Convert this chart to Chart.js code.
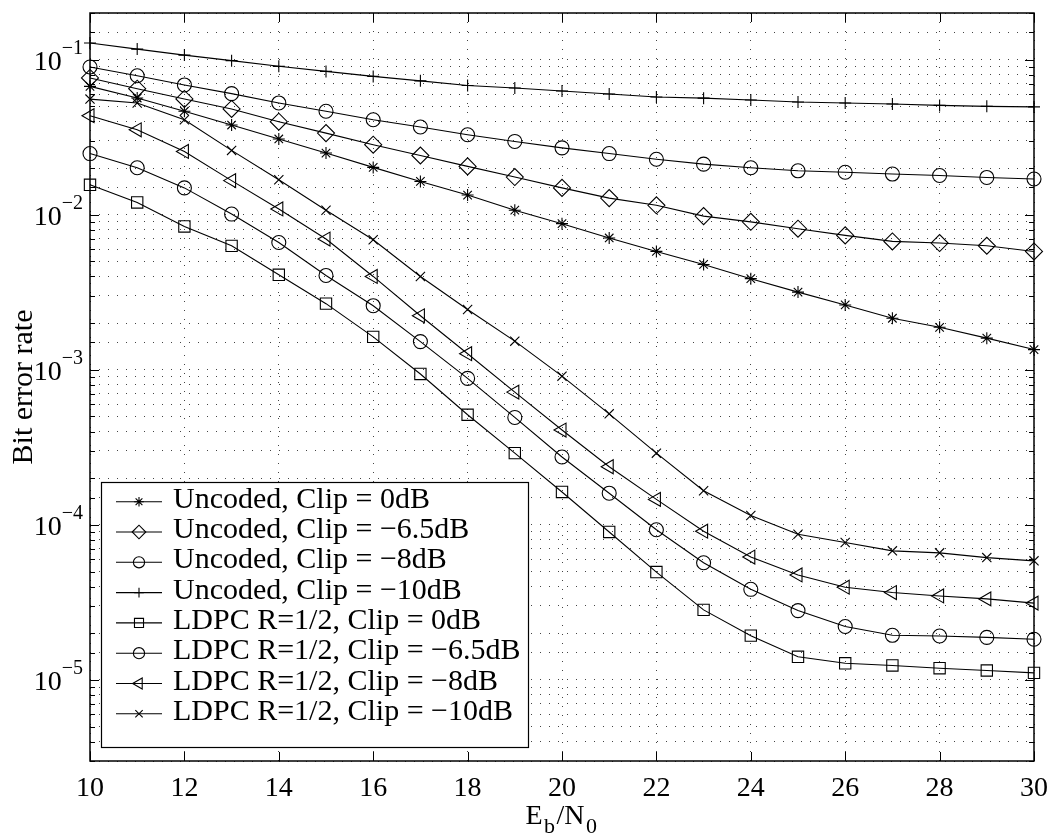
<!DOCTYPE html>
<html>
<head>
<meta charset="utf-8">
<script src="https://cdn.jsdelivr.net/npm/chart.js"></script>
<style>
  html, body { margin: 0; padding: 0; background: #fff; }
  canvas { display: block; }
</style>
</head>
<body>
<canvas id="ber" width="1059" height="839"></canvas>
<script>
// Eb/N0 (dB)
var snr = [10, 11, 12, 13, 14, 15, 16, 17, 18, 19, 20, 21, 22, 23, 24, 25, 26, 27, 28, 29, 30];

// uncoded
var unc0   = [0.0673, 0.0566, 0.0465, 0.0379, 0.0308, 0.025, 0.0202, 0.0164, 0.0134, 0.0107, 0.00876, 0.00708, 0.0058, 0.00478, 0.00387, 0.00317, 0.00262, 0.00215, 0.00188, 0.0016, 0.00135];
var unc65  = [0.0762, 0.065, 0.0558, 0.0481, 0.0398, 0.0336, 0.0283, 0.0241, 0.0205, 0.0175, 0.0149, 0.0128, 0.0115, 0.0098, 0.009, 0.00813, 0.00736, 0.00673, 0.00657, 0.00631, 0.0058];
var unc8   = [0.0897, 0.0788, 0.0687, 0.0604, 0.0526, 0.0465, 0.041, 0.0368, 0.0328, 0.0297, 0.027, 0.0248, 0.0228, 0.0212, 0.0201, 0.0192, 0.0188, 0.0183, 0.0179, 0.0174, 0.017];
var unc10  = [0.128, 0.117, 0.107, 0.0986, 0.0906, 0.084, 0.078, 0.073, 0.0682, 0.0656, 0.0628, 0.0601, 0.0575, 0.0565, 0.055, 0.0533, 0.0526, 0.0518, 0.0507, 0.05, 0.0496];

// LDPC R=1/2
var ldpc0  = [0.0156, 0.012, 0.0084, 0.0063, 0.0041, 0.00267, 0.00163, 0.00094, 0.000513, 0.00029, 0.000163, 9.0e-5, 4.96e-5, 2.83e-5, 1.93e-5, 1.41e-5, 1.28e-5, 1.24e-5, 1.19e-5, 1.15e-5, 1.11e-5];
var ldpc65 = [0.0248, 0.0201, 0.0149, 0.0101, 0.00662, 0.00406, 0.00259, 0.00152, 0.00088, 0.000493, 0.000274, 0.00016, 9.3e-5, 5.7e-5, 3.84e-5, 2.8e-5, 2.21e-5, 1.94e-5, 1.92e-5, 1.88e-5, 1.83e-5];
var ldpc8  = [0.0435, 0.0353, 0.0256, 0.0166, 0.0109, 0.00697, 0.004, 0.00223, 0.00127, 0.000718, 0.000409, 0.000237, 0.000146, 9.1e-5, 6.2e-5, 4.75e-5, 3.96e-5, 3.66e-5, 3.48e-5, 3.33e-5, 3.13e-5];
var ldpc10 = [0.0557, 0.0526, 0.041, 0.026, 0.0168, 0.0107, 0.0069, 0.004, 0.00245, 0.00153, 0.00091, 0.00052, 0.00029, 0.000166, 0.000115, 8.7e-5, 7.7e-5, 6.8e-5, 6.6e-5, 6.15e-5, 5.86e-5];

var labels = [
  'Uncoded, Clip = 0dB',
  'Uncoded, Clip = \u22126.5dB',
  'Uncoded, Clip = \u22128dB',
  'Uncoded, Clip = \u221210dB',
  'LDPC R=1/2, Clip = 0dB',
  'LDPC R=1/2, Clip = \u22126.5dB',
  'LDPC R=1/2, Clip = \u22128dB',
  'LDPC R=1/2, Clip = \u221210dB'
];
var series = [unc0, unc65, unc8, unc10, ldpc0, ldpc65, ldpc8, ldpc10];
var markers = ['star', 'rectRot', 'circle', 'cross', 'rect', 'circle', 'triangle', 'crossRot'];
var radii = [6, 8.5, 7, 6, 8, 7, 8, 6.5];
var rotations = [0, 0, 0, 0, 0, 0, -90, 0];

var xTicks = [10, 12, 14, 16, 18, 20, 22, 24, 26, 28, 30];

var FONT = '"Liberation Serif", "Times New Roman", serif';
Chart.defaults.font.family = FONT;
Chart.defaults.color = '#000';

function isDecade(v) {
  var l = Math.log10(v);
  return Math.abs(l - Math.round(l)) < 1e-6;
}

var datasets = series.map(function (arr, i) {
  return {
    label: labels[i],
    data: snr.map(function (x, j) { return { x: x, y: arr[j] }; }),
    borderColor: '#000',
    borderWidth: 1.1,
    backgroundColor: 'rgba(0,0,0,0)',
    pointStyle: markers[i],
    pointRadius: radii[i],
    pointRotation: rotations[i],
    pointBorderColor: '#000',
    pointBackgroundColor: 'rgba(0,0,0,0)',
    pointBorderWidth: 1.1,
    tension: 0,
    clip: false
  };
});

// matlab-ish box, inward ticks, superscript labels, titles and legend
var matlabAxes = {
  id: 'matlabAxes',
  afterDraw: function (chart) {
    var ctx = chart.ctx;
    var a = chart.chartArea;
    var xs = chart.scales.x;
    var ys = chart.scales.y;
    ctx.save();

    // inward ticks
    ctx.strokeStyle = '#000';
    ctx.lineWidth = 1;
    ctx.beginPath();
    xs.ticks.forEach(function (t) {
      var px = Math.round(xs.getPixelForValue(t.value)) + 0.5;
      ctx.moveTo(px, a.bottom); ctx.lineTo(px, a.bottom - 9);
      ctx.moveTo(px, a.top); ctx.lineTo(px, a.top + 9);
    });
    ys.ticks.forEach(function (t) {
      var py = Math.round(ys.getPixelForValue(t.value)) + 0.5;
      var len = isDecade(t.value) ? 9 : 5;
      ctx.moveTo(a.left, py); ctx.lineTo(a.left + len, py);
      ctx.moveTo(a.right, py); ctx.lineTo(a.right - len, py);
    });
    ctx.stroke();

    // box
    ctx.lineWidth = 1.5;
    ctx.strokeRect(a.left, a.top, a.right - a.left, a.bottom - a.top);

    // y labels 10^-k
    ctx.fillStyle = '#000';
    ctx.textAlign = 'right';
    ctx.textBaseline = 'alphabetic';
    ys.ticks.forEach(function (t) {
      if (!isDecade(t.value)) return;
      var py = ys.getPixelForValue(t.value);
      var e = Math.round(Math.log10(t.value));
      var expStr = (e < 0 ? '\u2212' : '') + Math.abs(e);
      ctx.font = '20px ' + FONT;
      var ew = ctx.measureText(expStr).width;
      ctx.fillText(expStr, a.left - 7, py - 6);
      ctx.font = '28px ' + FONT;
      ctx.fillText('10', a.left - 7 - ew, py + 10);
    });

    // y title
    ctx.save();
    ctx.translate(24, (a.top + a.bottom) / 2);
    ctx.rotate(-Math.PI / 2);
    ctx.textAlign = 'center';
    ctx.textBaseline = 'middle';
    ctx.font = '30px ' + FONT;
    ctx.fillText('Bit error rate', 0, 0);
    ctx.restore();

    // x title E_b/N_0
    var parts = [['E', 28, 0], ['b', 22, 9], ['/N', 28, 0], ['0', 22, 9]];
    var total = 0;
    parts.forEach(function (p) { ctx.font = p[1] + 'px ' + FONT; p.push(ctx.measureText(p[0]).width + 1.5); total += p[3]; });
    var cx = (a.left + a.right) / 2 - total / 2;
    ctx.textAlign = 'left';
    parts.forEach(function (p) {
      ctx.font = p[1] + 'px ' + FONT;
      ctx.fillText(p[0], cx, 824 + p[2]);
      cx += p[3];
    });

    // legend
    var lx = 101.5, ly = 482.5, lw = 427, lh = 265;
    ctx.fillStyle = '#fff';
    ctx.fillRect(lx, ly, lw, lh);
    ctx.lineWidth = 1.2;
    ctx.strokeStyle = '#000';
    ctx.strokeRect(lx, ly, lw, lh);
    chart.data.datasets.forEach(function (ds, i) {
      var ry = 501.7 + i * 30.3;
      ctx.lineWidth = 1.1;
      ctx.strokeStyle = '#000';
      ctx.beginPath();
      ctx.moveTo(116, ry); ctx.lineTo(162, ry);
      ctx.stroke();
      ctx.fillStyle = 'rgba(0,0,0,0)';
      Chart.helpers.drawPoint(ctx, {
        pointStyle: ds.pointStyle,
        radius: ds.pointRadius * 0.8,
        rotation: ds.pointRotation,
        borderWidth: 1.1
      }, 139, ry);
      ctx.fillStyle = '#000';
      ctx.font = '30px ' + FONT;
      ctx.textAlign = 'left';
      ctx.textBaseline = 'alphabetic';
      ctx.fillText(ds.label, 173, ry + 6);
    });

    ctx.restore();
  }
};

var ctx = document.getElementById('ber');
var myChart = new Chart(ctx, {
  type: 'line',
  data: { datasets: datasets },
  options: {
    responsive: false,
    animation: false,
    events: [],
    layout: { padding: { top: 13, right: 21, left: 0, bottom: 0 } },
    plugins: {
      legend: { display: false },
      tooltip: { enabled: false }
    },
    scales: {
      x: {
        type: 'linear',
        min: 10,
        max: 30,
        afterBuildTicks: function (scale) {
          scale.ticks = xTicks.map(function (v) { return { value: v }; });
        },
        afterFit: function (scale) { scale.height = 78; },
        grid: { color: '#444', lineWidth: 1, drawTicks: false },
        border: { display: false, dash: [1, 8] },
        ticks: {
          padding: 11,
          font: { size: 28 },
          color: '#000',
          callback: function (v) { return v; }
        }
      },
      y: {
        type: 'logarithmic',
        min: 3e-6,
        max: 0.2,
        afterFit: function (scale) { scale.width = 90; },
        grid: { color: '#444', lineWidth: 1, drawTicks: false },
        border: { display: false, dash: [1, 8] },
        ticks: { display: false, autoSkip: false }
      }
    }
  },
  plugins: [matlabAxes]
});
</script>
</body>
</html>
